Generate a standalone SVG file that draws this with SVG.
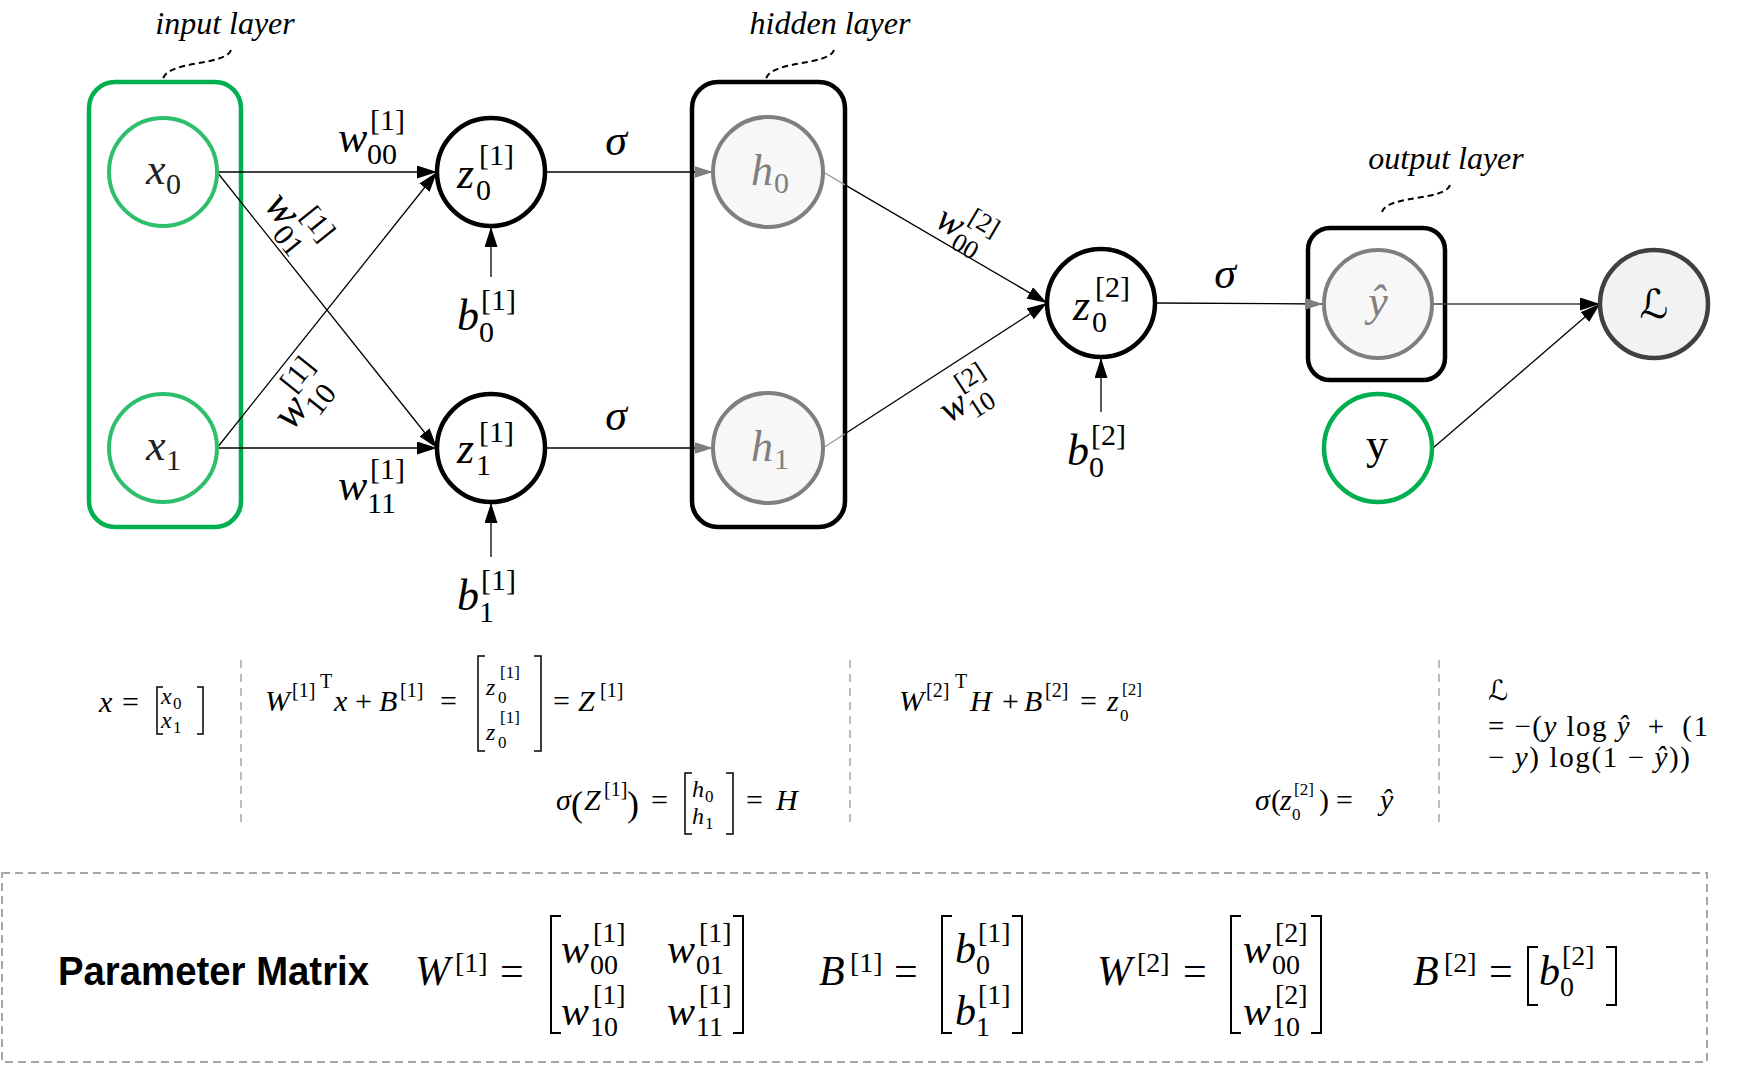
<svg xmlns="http://www.w3.org/2000/svg" width="1748" height="1065" viewBox="0 0 1748 1065">
<style>
.m{font-family:"Liberation Serif","DejaVu Serif",serif;font-style:italic}
.u{font-family:"Liberation Serif","DejaVu Serif","DejaVu Sans",serif;font-style:normal}
.big{font-size:44px}
.sub{font-size:30px}
.lbl{font-size:32px}
.eq{font-size:30px}
.es{font-size:20px}
.me{font-size:24px}
.ms{font-size:17px}
.pm{font-size:42px}
.ps{font-size:28px}
.dash{fill:none;stroke:#000;stroke-width:2;stroke-dasharray:6 4}
.sep{fill:none;stroke:#a6a6a6;stroke-width:1.5;stroke-dasharray:8 6}
.brk{fill:none;stroke:#000;stroke-width:2}
.brs{fill:none;stroke:#000;stroke-width:1.5}
.con{fill:none;stroke:#000;stroke-width:1.3}
.gray{fill:#7f7f7f}
</style>
<defs>
<marker id="arr" viewBox="0 0 20 13" refX="20" refY="6.5" markerWidth="20" markerHeight="13" markerUnits="userSpaceOnUse" orient="auto"><path d="M0,0 L20,6.5 L0,13 Z" fill="#000"/></marker>
<marker id="arrg" viewBox="0 0 20 13" refX="20" refY="6.5" markerWidth="18" markerHeight="12" markerUnits="userSpaceOnUse" orient="auto"><path d="M0,0 L20,6.5 L0,13 Z" fill="#7f7f7f"/></marker>
</defs>
<rect width="1748" height="1065" fill="#fff"/>

<g id="input-layer">
<rect x="89" y="82" width="152" height="445" rx="26" fill="none" stroke="#00b050" stroke-width="4.5"/>
<text class="m lbl" x="225" y="34" text-anchor="middle">input layer</text>
<path class="dash" d="M231,50 C226,66 168,60 163,79"/>
</g>
<g id="hidden-layer">
<rect x="692" y="82" width="153" height="445" rx="26" fill="none" stroke="#000" stroke-width="4.5"/>
<text class="m lbl" x="830" y="34" text-anchor="middle">hidden layer</text>
<path class="dash" d="M834,50 C829,66 771,60 766,79"/>
</g>
<g id="output-layer">
<rect x="1308" y="228" width="137" height="152" rx="22" fill="none" stroke="#000" stroke-width="4.5"/>
<text class="m lbl" x="1446" y="169" text-anchor="middle">output layer</text>
<path class="dash" d="M1450,185 C1445,201 1387,195 1382,212"/>
</g>

<g id="connectors">
<line class="con" x1="217" y1="172" x2="437" y2="172" marker-end="url(#arr)"/>
<line class="con" x1="217" y1="172" x2="437" y2="448" marker-end="url(#arr)"/>
<line class="con" x1="217" y1="448" x2="437" y2="172" marker-end="url(#arr)"/>
<line class="con" x1="217" y1="448" x2="437" y2="448" marker-end="url(#arr)"/>
<line class="con" x1="491" y1="277" x2="491" y2="227" marker-end="url(#arr)"/>
<line class="con" x1="491" y1="557" x2="491" y2="503" marker-end="url(#arr)"/>
<line class="con" x1="545" y1="172" x2="713" y2="172" marker-end="url(#arrg)"/>
<line class="con" x1="545" y1="448" x2="713" y2="448" marker-end="url(#arrg)"/>
<line x1="823" y1="172" x2="845" y2="184.9" stroke="#9a9a9a" stroke-width="1.3"/>
<line class="con" x1="845" y1="184.9" x2="1047" y2="303" marker-end="url(#arr)"/>
<line x1="823" y1="448" x2="845" y2="433.8" stroke="#9a9a9a" stroke-width="1.3"/>
<line class="con" x1="845" y1="433.8" x2="1047" y2="303" marker-end="url(#arr)"/>
<line class="con" x1="1101" y1="412" x2="1101" y2="358" marker-end="url(#arr)"/>
<line class="con" x1="1155" y1="303" x2="1323" y2="304" marker-end="url(#arrg)"/>
<line x1="1433" y1="304" x2="1600" y2="304" stroke="#404040" stroke-width="1.5" marker-end="url(#arr)"/>
<line class="con" x1="1433" y1="448" x2="1600" y2="304" marker-end="url(#arr)"/>
</g>

<g id="edge-labels">
<g id="w00-1"><text class="m big" x="338" y="152">w</text><text class="u sub" x="367" y="164">00</text><text class="u sub" x="370" y="130">[1]</text></g>
<g id="w11-1"><text class="m big" x="338" y="500">w</text><text class="u sub" x="367" y="513">11</text><text class="u sub" x="370" y="479">[1]</text></g>
<g id="w01-1" transform="translate(294,222) rotate(51.4)"><text class="m big" x="-32" y="14">w</text><text class="u sub" x="-4" y="26">01</text><text class="u sub" x="-1" y="-8">[1]</text></g>
<g id="w10-1" transform="translate(301,398) rotate(-51.4)"><text class="m big" x="-32" y="14">w</text><text class="u sub" x="-4" y="26">10</text><text class="u sub" x="-1" y="-8">[1]</text></g>
<g id="w00-2" transform="translate(964,229) rotate(30.4) scale(0.88)"><text class="m big" x="-32" y="14">w</text><text class="u sub" x="-4" y="26">00</text><text class="u sub" x="-1" y="-8">[2]</text></g>
<g id="w10-2" transform="translate(966,398) rotate(-33) scale(0.88)"><text class="m big" x="-32" y="14">w</text><text class="u sub" x="-4" y="26">10</text><text class="u sub" x="-1" y="-8">[2]</text></g>
<g id="b0-1"><text class="m big" x="457" y="330">b</text><text class="u sub" x="479" y="342">0</text><text class="u sub" x="481" y="310">[1]</text></g>
<g id="b1-1"><text class="m big" x="457" y="610">b</text><text class="u sub" x="479" y="622">1</text><text class="u sub" x="481" y="590">[1]</text></g>
<g id="b0-2"><text class="m big" x="1067" y="465">b</text><text class="u sub" x="1089" y="477">0</text><text class="u sub" x="1091" y="445">[2]</text></g>
<text class="m big" x="616" y="155" text-anchor="middle">σ</text>
<text class="m big" x="616" y="430" text-anchor="middle">σ</text>
<text class="m big" x="1225" y="288" text-anchor="middle">σ</text>
</g>

<g id="node-x0"><circle cx="163" cy="172" r="54" fill="#fff" stroke="#2ebf6c" stroke-width="4"/><text class="m big" x="146" y="184" fill="#222">x</text><text class="u sub" x="166" y="194" fill="#222">0</text></g>
<g id="node-x1"><circle cx="163" cy="448" r="54" fill="#fff" stroke="#2ebf6c" stroke-width="4"/><text class="m big" x="146" y="460" fill="#222">x</text><text class="u sub" x="166" y="470" fill="#222">1</text></g>
<g id="node-z0-1"><circle cx="491" cy="172" r="54" fill="#fff" stroke="#000" stroke-width="4.5"/><text class="m big" x="457" y="188">z</text><text class="u sub" x="476" y="200">0</text><text class="u sub" x="479" y="165">[1]</text></g>
<g id="node-z1-1"><circle cx="491" cy="448" r="54" fill="#fff" stroke="#000" stroke-width="4.5"/><text class="m big" x="457" y="463">z</text><text class="u sub" x="476" y="475">1</text><text class="u sub" x="479" y="442">[1]</text></g>
<g id="node-h0"><circle cx="768" cy="172" r="55" fill="#f7f7f7" stroke="#7f7f7f" stroke-width="4"/><text class="m big gray" x="751" y="185">h</text><text class="u sub gray" x="774" y="193">0</text></g>
<g id="node-h1"><circle cx="768" cy="448" r="55" fill="#f7f7f7" stroke="#7f7f7f" stroke-width="4"/><text class="m big gray" x="751" y="461">h</text><text class="u sub gray" x="774" y="469">1</text></g>
<g id="node-z0-2"><circle cx="1101" cy="303" r="54" fill="#fff" stroke="#000" stroke-width="4.5"/><text class="m big" x="1073" y="320">z</text><text class="u sub" x="1092" y="332">0</text><text class="u sub" x="1095" y="297">[2]</text></g>
<g id="node-yhat"><circle cx="1378" cy="304" r="54" fill="#f7f7f7" stroke="#7f7f7f" stroke-width="4"/><text class="m big gray" x="1378" y="316" text-anchor="middle">ŷ</text></g>
<g id="node-y"><circle cx="1378" cy="448" r="54" fill="#fff" stroke="#00b050" stroke-width="4.5"/><text class="u big" x="1377" y="459" text-anchor="middle">y</text></g>
<g id="node-L"><circle cx="1654" cy="304" r="54" fill="#f2f2f2" stroke="#404040" stroke-width="4.5"/><text class="u" font-size="40" x="1654" y="318" text-anchor="middle">ℒ</text></g>

<g id="equations">
<line class="sep" x1="241" y1="660" x2="241" y2="828"/>
<line class="sep" x1="850" y1="660" x2="850" y2="828"/>
<line class="sep" x1="1439" y1="660" x2="1439" y2="828"/>
<!-- x = [x0; x1] -->
<text class="m eq" x="99" y="712">x</text><text class="u eq" x="122" y="712">=</text>
<path class="brs" d="M163,687 L157,687 L157,734 L163,734 M197,687 L203,687 L203,734 L197,734"/>
<text class="m me" x="161" y="704">x</text><text class="u ms" x="173" y="709">0</text>
<text class="m me" x="161" y="728">x</text><text class="u ms" x="173" y="733">1</text>
<!-- W1T x + B1 = [z;z] = Z1 -->
<text class="m eq" x="265" y="711">W</text><text class="u es" x="292" y="697">[1]</text><text class="u es" x="320" y="688">T</text>
<text class="m eq" x="334" y="711">x</text><text class="u eq" x="355" y="711">+</text>
<text class="m eq" x="379" y="711">B</text><text class="u es" x="400" y="697">[1]</text><text class="u eq" x="440" y="711">=</text>
<path class="brs" d="M485,656 L478,656 L478,751 L485,751 M534,656 L541,656 L541,751 L534,751"/>
<text class="m me" x="486" y="695">z</text><text class="u ms" x="498" y="703">0</text><text class="u ms" x="500" y="678">[1]</text>
<text class="m me" x="486" y="740">z</text><text class="u ms" x="498" y="748">0</text><text class="u ms" x="500" y="723">[1]</text>
<text class="u eq" x="553" y="711">=</text><text class="m eq" x="578" y="711">Z</text><text class="u es" x="600" y="697">[1]</text>
<!-- sigma(Z1) = [h0;h1] = H -->
<text class="m eq" x="556" y="810">σ</text><text class="u" font-size="36" x="571" y="816">(</text>
<text class="m eq" x="584" y="810">Z</text><text class="u es" x="604" y="796">[1]</text><text class="u" font-size="36" x="627" y="816">)</text>
<text class="u eq" x="651" y="810">=</text>
<path class="brs" d="M692,773 L685,773 L685,834 L692,834 M726,773 L733,773 L733,834 L726,834"/>
<text class="m me" x="692" y="797">h</text><text class="u ms" x="705" y="802">0</text>
<text class="m me" x="692" y="824">h</text><text class="u ms" x="705" y="829">1</text>
<text class="u eq" x="746" y="810">=</text><text class="m eq" x="776" y="810">H</text>
<!-- W2T H + B2 = z0[2] -->
<text class="m eq" x="899" y="711">W</text><text class="u es" x="926" y="697">[2]</text><text class="u es" x="955" y="688">T</text>
<text class="m eq" x="970" y="711">H</text><text class="u eq" x="1002" y="711">+</text>
<text class="m eq" x="1024" y="711">B</text><text class="u es" x="1045" y="697">[2]</text><text class="u eq" x="1080" y="711">=</text>
<text class="m eq" x="1107" y="711">z</text><text class="u ms" x="1120" y="721">0</text><text class="u ms" x="1122" y="695">[2]</text>
<!-- sigma(z0[2]) = yhat -->
<text class="m eq" x="1255" y="810">σ</text><text class="u eq" x="1271" y="810">(</text>
<text class="m eq" x="1280" y="810">z</text><text class="u ms" x="1292" y="820">0</text><text class="u ms" x="1294" y="795">[2]</text>
<text class="u eq" x="1319" y="810">)</text><text class="u eq" x="1336" y="810">=</text><text class="m eq" x="1380" y="810">ŷ</text>
<!-- Loss -->
<text class="u" font-size="28" x="1488" y="700">ℒ</text>
<text class="u" font-size="29" x="1488" y="736" textLength="220">= −(<tspan class="m">y</tspan> log <tspan class="m">ŷ</tspan> <tspan dx="8">+</tspan> <tspan dx="8">(1</tspan></text>
<text class="u" font-size="29" x="1488" y="767" textLength="202">− <tspan class="m">y</tspan>) log(1 − <tspan class="m">ŷ</tspan>))</text>
</g>

<g id="parameter-matrix">
<rect x="2" y="873" width="1705" height="189" fill="none" stroke="#a6a6a6" stroke-width="2" stroke-dasharray="8 5"/>
<text x="58" y="985" font-family="'Liberation Sans','Noto Sans',sans-serif" font-weight="bold" font-size="40" textLength="311" lengthAdjust="spacingAndGlyphs">Parameter Matrix</text>
<text class="m pm" x="415" y="985">W</text><text class="u ps" x="455" y="972">[1]</text><text class="u pm" x="500" y="985">=</text>
<path class="brk" d="M561,916 L551,916 L551,1033 L561,1033 M733,916 L743,916 L743,1033 L733,1033"/>
<text class="m pm" x="561" y="963">w</text><text class="u ps" x="590" y="974">00</text><text class="u ps" x="593" y="942">[1]</text>
<text class="m pm" x="667" y="963">w</text><text class="u ps" x="696" y="974">01</text><text class="u ps" x="699" y="942">[1]</text>
<text class="m pm" x="561" y="1025">w</text><text class="u ps" x="590" y="1036">10</text><text class="u ps" x="593" y="1004">[1]</text>
<text class="m pm" x="667" y="1025">w</text><text class="u ps" x="696" y="1036">11</text><text class="u ps" x="699" y="1004">[1]</text>
<text class="m pm" x="819" y="985">B</text><text class="u ps" x="850" y="972">[1]</text><text class="u pm" x="894" y="985">=</text>
<path class="brk" d="M952,916 L942,916 L942,1033 L952,1033 M1012,916 L1022,916 L1022,1033 L1012,1033"/>
<text class="m pm" x="955" y="963">b</text><text class="u ps" x="976" y="974">0</text><text class="u ps" x="978" y="942">[1]</text>
<text class="m pm" x="955" y="1025">b</text><text class="u ps" x="976" y="1036">1</text><text class="u ps" x="978" y="1004">[1]</text>
<text class="m pm" x="1097" y="985">W</text><text class="u ps" x="1137" y="972">[2]</text><text class="u pm" x="1183" y="985">=</text>
<path class="brk" d="M1241,916 L1231,916 L1231,1033 L1241,1033 M1311,916 L1321,916 L1321,1033 L1311,1033"/>
<text class="m pm" x="1243" y="963">w</text><text class="u ps" x="1272" y="974">00</text><text class="u ps" x="1275" y="942">[2]</text>
<text class="m pm" x="1243" y="1025">w</text><text class="u ps" x="1272" y="1036">10</text><text class="u ps" x="1275" y="1004">[2]</text>
<text class="m pm" x="1413" y="985">B</text><text class="u ps" x="1444" y="972">[2]</text><text class="u pm" x="1489" y="985">=</text>
<path class="brk" d="M1538,947 L1528,947 L1528,1005 L1538,1005 M1606,947 L1616,947 L1616,1005 L1606,1005"/>
<text class="m pm" x="1539" y="985">b</text><text class="u ps" x="1560" y="996">0</text><text class="u ps" x="1562" y="965">[2]</text>
</g>
</svg>
